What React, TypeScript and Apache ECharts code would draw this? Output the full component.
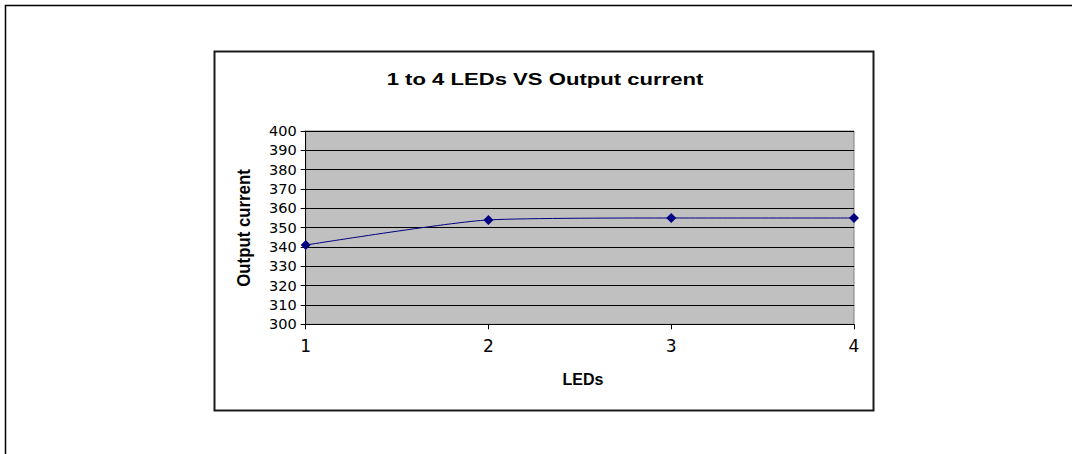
import React, { useEffect, useRef } from "react";
import * as echarts from "echarts";

const leds: number[] = [1, 2, 3, 4];
const outputCurrent: number[] = [341, 354, 355, 355];
const chartTitle = "1 to 4 LEDs VS Output current";
const xName = "LEDs";
const yName = "Output current";

export default function App() {
  const ref = useRef<HTMLDivElement>(null);
  useEffect(() => {
    if (!ref.current) return;
    const chart = echarts.init(ref.current, null, { renderer: "svg" });
    chart.setOption({
      animation: false,
      backgroundColor: "#ffffff",
      graphic: [
        {
          type: "rect",
          shape: { x: 5.5, y: 5.5, width: 1100, height: 480 },
          style: { fill: "none", stroke: "#000", lineWidth: 1.5 },
          silent: true,
          z: -10,
        },
        {
          type: "rect",
          shape: { x: 214.5, y: 51.5, width: 659, height: 359 },
          style: { fill: "none", stroke: "#1a1a1a", lineWidth: 2 },
          silent: true,
          z: -10,
        },
        {
          type: "text",
          x: 545,
          y: 79,
          scaleX: 1.3,
          style: {
            text: chartTitle,
            fill: "#000",
            font: "bold 17px 'Liberation Sans', Arial, sans-serif",
            textAlign: "center",
            textVerticalAlign: "middle",
          },
        },
        {
          type: "text",
          x: 244,
          y: 228,
          rotation: Math.PI / 2,
          scaleX: 1.05,
          scaleY: 1.1,
          style: {
            text: yName,
            fill: "#000",
            font: "bold 16px 'Liberation Sans', Arial, sans-serif",
            textAlign: "center",
            textVerticalAlign: "middle",
          },
        },
        {
          type: "text",
          x: 583,
          y: 379,
          style: {
            text: xName,
            fill: "#000",
            font: "bold 16px 'Liberation Sans', Arial, sans-serif",
            textAlign: "center",
            textVerticalAlign: "middle",
          },
        },
      ],
      grid: {
        left: 305.7,
        right: 218,
        top: 131,
        bottom: 129.7,
        show: true,
        backgroundColor: "#c0c0c0",
        borderColor: "#808080",
        borderWidth: 1,
        containLabel: false,
      },
      xAxis: {
        type: "value",
        min: 1,
        max: 4,
        interval: 1,
        axisLine: { show: true, lineStyle: { color: "#000", width: 1 } },
        axisTick: { show: true, inside: false, length: 5, lineStyle: { color: "#000" } },
        axisLabel: {
          color: "#000",
          fontFamily: "'DejaVu Sans', sans-serif",
          fontSize: 17,
          margin: 13,
        },
        splitLine: { show: false },
      },
      yAxis: {
        type: "value",
        min: 300,
        max: 400,
        interval: 10,
        axisLine: { show: true, lineStyle: { color: "#000", width: 1 } },
        axisTick: { show: true, inside: false, length: 5, lineStyle: { color: "#000" } },
        axisLabel: {
          color: "#000",
          fontFamily: "'DejaVu Sans', sans-serif",
          fontSize: 14.5,
          margin: 9,
        },
        splitLine: { show: true, lineStyle: { color: "#000", width: 1 } },
      },
      series: [
        {
          type: "line",
          data: leds.map((x, i) => [x, outputCurrent[i]]),
          smooth: 0.2,
          symbol: "diamond",
          symbolSize: 10,
          lineStyle: { color: "#000080", width: 1 },
          itemStyle: { color: "#000080" },
        },
      ],
    });
    return () => chart.dispose();
  }, []);
  return (
    <div
      ref={ref}
      style={{ position: "fixed", left: 0, top: 0, width: 1072, height: 454 }}
    />
  );
}
